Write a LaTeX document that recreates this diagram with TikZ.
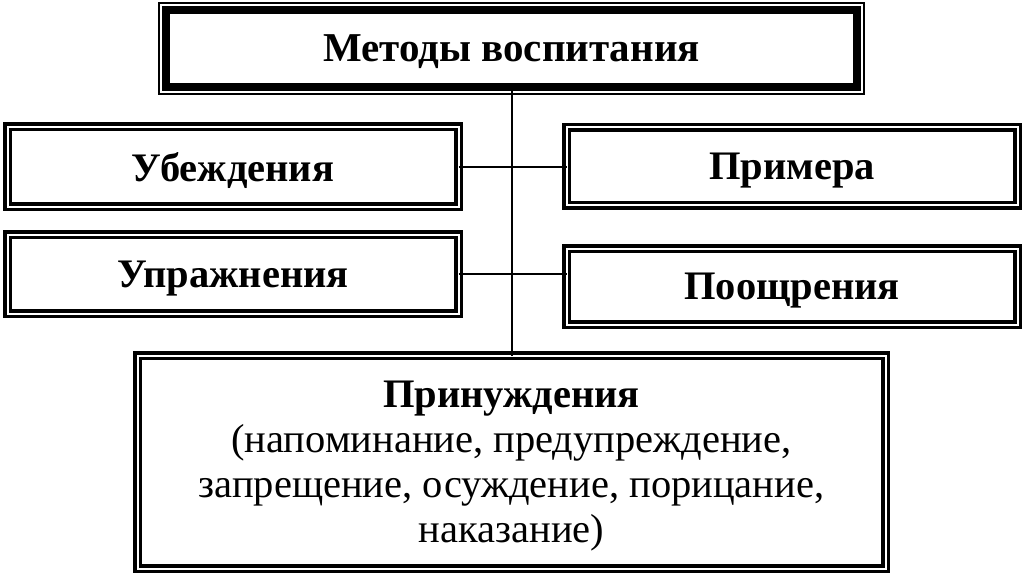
\documentclass[tikz,border=0pt]{standalone}
\usepackage{fontspec}
\setmainfont{Liberation Serif}
\usetikzlibrary{calc}

\begin{document}
\begin{tikzpicture}[
  x=1pt, y=-1pt,
  box/.style={
    draw=black,
    line width=3.5pt,
    double=white,
    double distance=2pt,
    inner sep=0pt,
    outer sep=0pt,
    align=center,
    text=black,
    text depth=0pt,
    font=\fontsize{40.5}{45}\selectfont\bfseries
  },
  headbox/.style={
    draw=black,
    line width=8pt,
    inner sep=0pt,
    outer sep=0pt,
    text=black,
    text depth=0pt,
    font=\fontsize{41}{45}\selectfont\bfseries
  },
  frame/.style={
    draw=black,
    line width=2pt
  },
  link/.style={
    draw=black,
    line width=2pt
  }
]

\fill[white] (0,0) rectangle (1024,574);

% main node and its thin outer frame
\node[headbox, minimum width=691pt, minimum height=77pt] (methods) at (511.5,48.5)
  {Методы воспитания};
\draw[frame] ([shift={(-7,-7)}]methods.north west) rectangle ([shift={(7,7)}]methods.south east);

\node[box, minimum width=451pt, minimum height=80pt] (conv) at (233,166.5) {Убеждения};
\node[box, minimum width=451pt, minimum height=78pt] (exmp) at (792,166) {Примера};
\node[box, minimum width=451pt, minimum height=79pt] (exer) at (233,274) {Упражнения};
\node[box, minimum width=451pt, minimum height=76pt] (rewd) at (792,286.5) {Поощрения};

\node[box, minimum width=748pt, minimum height=213pt] (force) at (511.5,462)
  {Принуждения\\
   \mdseries(напоминание, предупреждение,\\
   \mdseries запрещение, осуждение, порицание,\\
   \mdseries наказание)};

% connectors
\draw[link] (methods.south) -- (force.north);
\draw[link] (conv.east) -- (conv.east -| exmp.west);
\draw[link] (exer.east) -- (exer.east -| rewd.west);

\end{tikzpicture}
\end{document}
